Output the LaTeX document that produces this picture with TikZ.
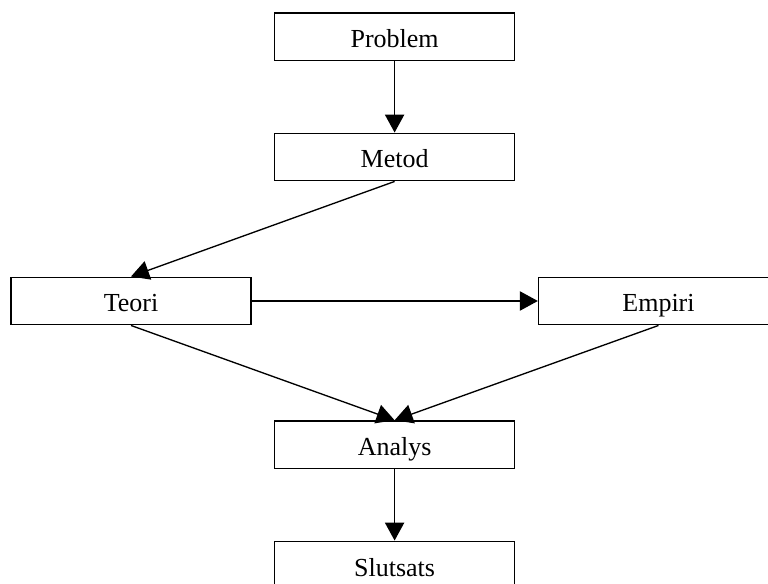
\documentclass[tikz,border=0pt]{standalone}
\usepackage{fontspec}
\setmainfont{Liberation Serif}
\usetikzlibrary{arrows.meta,positioning}
\begin{document}
\begin{tikzpicture}[x=0.75pt, y=-0.75pt,
	every node/.style={draw, rectangle, line width=1pt, minimum width=180pt, minimum height=35.7pt, inner sep=0pt, text height=18.5pt, text depth=2pt, font=\fontsize{19.5}{23}\selectfont},
	flow/.style={-{Triangle[length=13.5pt,width=14.5pt]}, line width=1pt}]
	\useasboundingbox (0,0) rectangle (768,584);
	\node (problem) at (394.6,36.7) {Problem};
	\node (metod) at (394.6,157) {Metod};
	\node (teori) at (131,301) {Teori};
	\node (empiri) at (658.5,301) {Empiri};
	\node (analys) at (394.6,444.7) {Analys};
	\node (slutsats) at (394.6,565) {Slutsats};
	\draw[flow] (problem) -- (metod);
	\draw[flow] (metod.south) -- (teori.north);
	\draw[flow] (teori) -- (empiri);
	\draw[flow] (teori.south) -- (analys.north);
	\draw[flow] (empiri.south) -- (analys.north);
	\draw[flow] (analys) -- (slutsats);
\end{tikzpicture}
\end{document}
